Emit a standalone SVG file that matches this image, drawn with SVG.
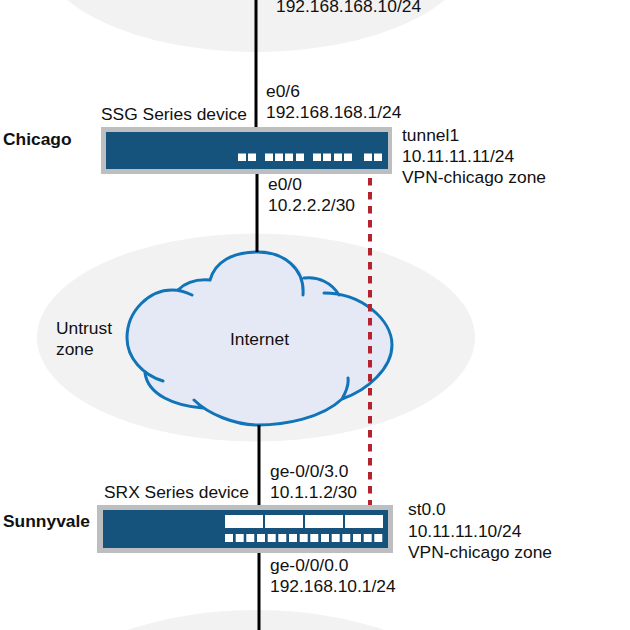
<svg xmlns="http://www.w3.org/2000/svg" width="630" height="630" viewBox="0 0 630 630">
<style>
text{font-family:"Liberation Sans",Arial,sans-serif;font-size:17.400px;fill:#111}
.b{font-weight:bold}
.zone{fill:#f2f2f2}
.outer{fill:#bcbec0}
.inner{fill:#15527c}
.port{fill:#fff}
.link{stroke:#000;stroke-width:3;fill:none}
.tun{stroke:#b5232f;stroke-width:4;stroke-dasharray:7.500 6.500;fill:none}
.cl{fill:none;stroke:#1174b8;stroke-width:3;stroke-linecap:round}
</style>
<g id="zones">
<ellipse class="zone" cx="256" cy="-52" rx="218" ry="104"/>
<ellipse class="zone" cx="256" cy="337.500" rx="219" ry="104"/>
<ellipse class="zone" cx="256" cy="714" rx="218" ry="104"/>
</g>
<g id="cloud">
<path d="M178 290C187 281 198 279 210 280C215 262 232 252 258 252C283 252 302 265 304 278C318 276 332 283 339 294C367 300 392 320 392 345C392 368 368 390 342 399C320 420 285 425 258 425C235 425 212 416 203 408C175 406 146 395 145 373C133 362 127 350 127 338C127 310 150 288 178 290Z" fill="#e5e9f6"/>
<path class="cl" d="M178 290C187 281 198 279 210 280C215 262 232 252 258 252C283 252 305 268 303 295M304 278C318 276 332 283 339 295M324 293C362 293 392 320 392 345C392 368 368 390 342 399M348 378C349 385 346 392 342 399C322 418 285 425 258 425C235 425 208 414 194 400M203 408C175 406 148 395 145 373M163 381C143 375 127 358 127 338C127 310 150 290 172 290C180 290 186 292 192 295"/>
<text x="230" y="345">Internet</text>
</g>
<g id="connectors">
<path class="link" d="M256 0V127M257 174V252M259 425V505M259 552V630"/>
<path class="tun" d="M370 178V505"/>
</g>
<g id="chicago">
<rect class="outer" x="101" y="127" width="291" height="47"/>
<rect class="inner" x="106" y="132" width="282" height="37"/>
<g class="port">
<rect x="238" y="153.500" width="8" height="7.500"/><rect x="248" y="153.500" width="8" height="7.500"/>
<rect x="265" y="153.500" width="8" height="7.500"/><rect x="275" y="153.500" width="8" height="7.500"/><rect x="285" y="153.500" width="8" height="7.500"/><rect x="296" y="153.500" width="8" height="7.500"/>
<rect x="313" y="153.500" width="8" height="7.500"/><rect x="323" y="153.500" width="8" height="7.500"/><rect x="334" y="153.500" width="8" height="7.500"/><rect x="344" y="153.500" width="8" height="7.500"/>
<rect x="364" y="153.500" width="8" height="7.500"/><rect x="374" y="153.500" width="8" height="7.500"/>
</g>
<text class="b" x="3" y="145">Chicago</text>
<text x="101" y="120">SSG Series device</text>
</g>
<g id="sunnyvale">
<rect class="outer" x="97" y="505" width="296" height="48"/>
<rect class="inner" x="103" y="510" width="285" height="38"/>
<g class="port">
<rect x="225" y="515" width="38" height="13"/><rect x="265" y="515" width="38" height="13"/><rect x="305" y="515" width="38" height="13"/><rect x="345" y="515" width="38" height="13"/>
<rect x="225" y="534" width="8" height="8"/><rect x="235.700" y="534" width="8" height="8"/><rect x="246.300" y="534" width="8" height="8"/><rect x="257" y="534" width="8" height="8"/><rect x="267.700" y="534" width="8" height="8"/><rect x="278.300" y="534" width="8" height="8"/><rect x="289" y="534" width="8" height="8"/><rect x="299.700" y="534" width="8" height="8"/><rect x="310.300" y="534" width="8" height="8"/><rect x="321" y="534" width="8" height="8"/><rect x="331.700" y="534" width="8" height="8"/><rect x="342.300" y="534" width="8" height="8"/><rect x="353" y="534" width="8" height="8"/><rect x="363.700" y="534" width="8" height="8"/><rect x="374.300" y="534" width="8" height="8"/>
</g>
<text class="b" x="3" y="527">Sunnyvale</text>
<text x="104" y="498">SRX Series device</text>
</g>
<g id="labels">
<text x="276" y="12">192.168.168.10/24</text>
<text x="266" y="97">e0/6</text>
<text x="266" y="118">192.168.168.1/24</text>
<text x="402" y="141">tunnel1</text>
<text x="402" y="162">10.11.11.11/24</text>
<text x="402" y="183">VPN-chicago zone</text>
<text x="268" y="190">e0/0</text>
<text x="268" y="211">10.2.2.2/30</text>
<text x="56" y="334">Untrust</text>
<text x="56" y="355">zone</text>
<text x="270" y="477">ge-0/0/3.0</text>
<text x="270" y="498">10.1.1.2/30</text>
<text x="408" y="515">st0.0</text>
<text x="408" y="537">10.11.11.10/24</text>
<text x="408" y="558">VPN-chicago zone</text>
<text x="270" y="571">ge-0/0/0.0</text>
<text x="270" y="592">192.168.10.1/24</text>
</g>
</svg>
